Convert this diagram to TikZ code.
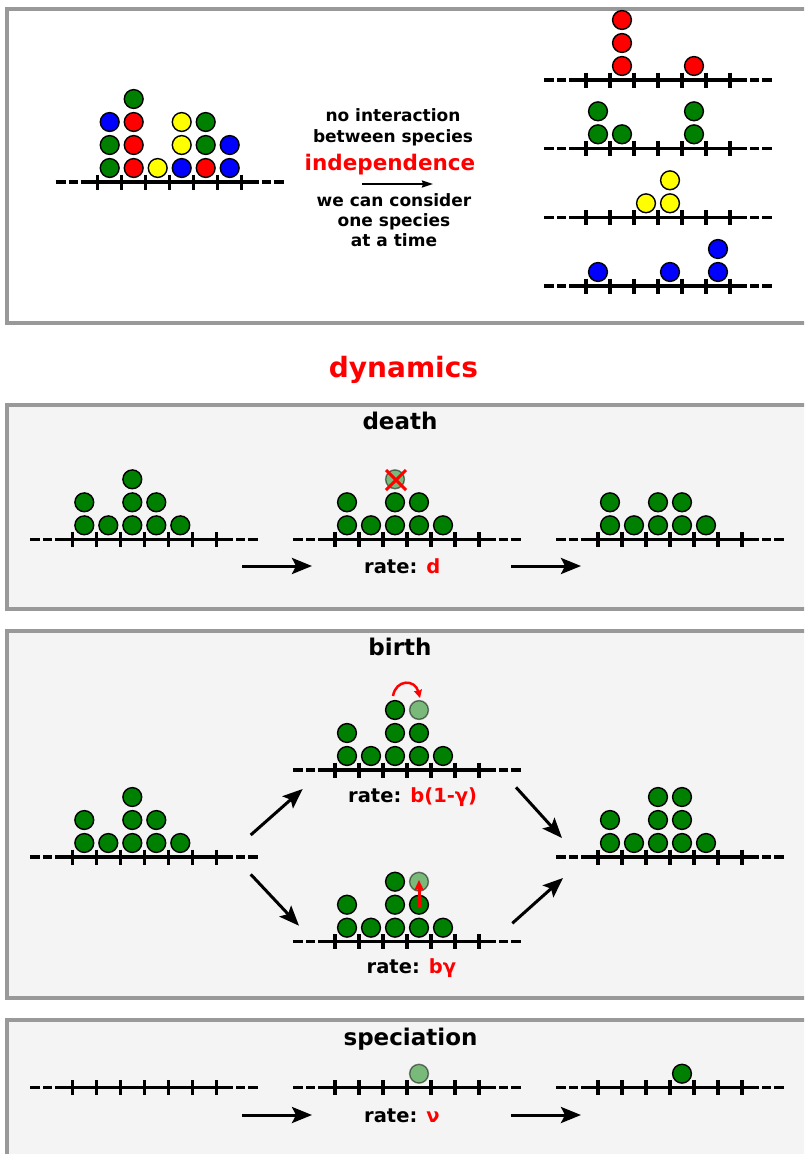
\documentclass[tikz,border=0pt]{standalone}
\usepackage{fontspec}
\setmainfont{DejaVu Sans}
\usetikzlibrary{arrows.meta}
\definecolor{pgreen}{RGB}{0,128,0}
\definecolor{pred}{RGB}{255,0,0}
\definecolor{pyellow}{RGB}{255,255,0}
\definecolor{pblue}{RGB}{0,0,255}
\definecolor{framegray}{RGB}{153,153,153}
\definecolor{panelgray}{RGB}{244,244,244}
\tikzset{
  latline/.style={line width=3.5pt},
  tickline/.style={line width=3.2pt},
  bead/.style={draw=black, line width=1.4pt},
  fadedbead/.style={draw=black, line width=1.4pt, fill=pgreen, opacity=0.5},
  panelbox/.style={draw=framegray, line width=4pt, fill=panelgray},
  txt/.style={anchor=base, inner sep=0pt, font=\bfseries\fontsize{17pt}{17pt}\selectfont},
  titletxt/.style={anchor=base, inner sep=0pt, font=\bfseries\fontsize{23pt}{23pt}\selectfont},
  ratetxt/.style={anchor=base west, inner sep=0pt, font=\bfseries\fontsize{19.5pt}{19.5pt}\selectfont},
  bigarrow/.style={line width=3pt, -{Stealth[length=20pt,width=16pt,inset=4pt]}},
  smallarrow/.style={line width=2pt, -{Stealth[length=11pt,width=7pt,inset=1pt]}}
}
\newcommand{\latt}[2]{%
  \draw[latline] ({#1-89},#2) -- ({#1+89},#2);
  \draw[latline] ({#1-114},#2) -- ({#1-104},#2) ({#1-101},#2) -- ({#1-92},#2)
                 ({#1+92},#2) -- ({#1+101},#2) ({#1+104},#2) -- ({#1+114},#2);
  \foreach \t in {-72,-48,...,72} \draw[tickline] ({#1+\t},{#2-7.5}) -- ({#1+\t},{#2+7.5});
}
\newcommand{\bead}[5]{\filldraw[bead, fill=#5] ({#1-60+24*(#3)},{#2-14-23*(#4)}) circle (9.4pt);}
\newcommand{\fadedbead}[4]{\filldraw[fadedbead] ({#1-60+24*(#3)},{#2-14-23*(#4)}) circle (9.4pt);}
\newcommand{\gstack}[3]{\foreach \k/\n in {#3} {\foreach \l in {1,...,\n} {\bead{#1}{#2}{\k}{\l-1}{pgreen}}}}
\begin{document}
\begin{tikzpicture}[x=1pt,y=-1pt]
\useasboundingbox (0,0) rectangle (804,1154);
\clip (0,0) rectangle (804,1154);
\fill[white] (0,0) rectangle (804,1154);

% ---------- top panel ----------
\draw[draw=framegray, line width=4pt, fill=white] (6.5,9) rectangle (840,323);
\latt{169.7}{182}
\foreach \k/\l/\c in {0/0/pgreen,0/1/pgreen,0/2/pblue,
  1/0/pred,1/1/pred,1/2/pred,1/3/pgreen,
  2/0/pyellow,
  3/0/pblue,3/1/pyellow,3/2/pyellow,
  4/0/pred,4/1/pgreen,4/2/pgreen,
  5/0/pblue,5/1/pblue} {\bead{169.7}{182}{\k}{\l}{\c}}

\node[txt] (t1) at (393,121) {no interaction};
\node[txt] (t2) at (393,142.5) {between species};
\node[txt, text=pred, font=\bfseries\fontsize{21.5pt}{21.5pt}\selectfont] (t3) at (390,170) {independence};
\coordinate (ta) at (362,184);
\coordinate (tb) at (433,184);
\draw[smallarrow] (ta) -- (tb);
\node[txt] (t4) at (394,206.5) {we can consider};
\node[txt] (t5) at (394,226.5) {one species};
\node[txt] (t6) at (394,246.5) {at a time};

\latt{658}{80}
\foreach \k/\l in {1/0,1/1,1/2,4/0} {\bead{658}{80}{\k}{\l}{pred}}
\latt{658}{148.3}
\foreach \k/\l in {0/0,0/1,1/0,4/0,4/1} {\bead{658}{148.3}{\k}{\l}{pgreen}}
\latt{658}{217.3}
\foreach \k/\l in {2/0,3/0,3/1} {\bead{658}{217.3}{\k}{\l}{pyellow}}
\latt{658}{286}
\foreach \k/\l in {0/0,3/0,5/0,5/1} {\bead{658}{286}{\k}{\l}{pblue}}

% ---------- dynamics ----------
\node[anchor=base, inner sep=0pt, text=pred, font=\bfseries\fontsize{28pt}{28pt}\selectfont] (dyn) at (403.5,377) {dynamics};

% ---------- death ----------
\draw[panelbox] (7,405.3) rectangle (840,609);
\node[titletxt] (death) at (400,429) {death};
\latt{144.3}{539.3}
\gstack{144.3}{539.3}{0/2,1/1,2/3,3/2,4/1}
\latt{407}{539.3}
\gstack{407}{539.3}{0/2,1/1,2/2,3/2,4/1}
\fadedbead{407}{539.3}{2}{2}
\draw[pred, line width=3pt] (386,470) -- (406,490) (386,490) -- (406,470);
\latt{670}{539.3}
\gstack{670}{539.3}{0/2,1/1,2/2,3/2,4/1}
\coordinate (da1) at (242,566);
\coordinate (da2) at (312,566);
\coordinate (db1) at (511,566);
\coordinate (db2) at (581,566);
\draw[bigarrow] (da1) -- (da2);
\draw[bigarrow] (db1) -- (db2);
\node[ratetxt] (rd) at (364,573) {rate: \textcolor{pred}{d}};

% ---------- birth ----------
\draw[panelbox] (7,631.3) rectangle (840,998);
\node[titletxt] (birth) at (400,655) {birth};
\latt{144.3}{857}
\gstack{144.3}{857}{0/2,1/1,2/3,3/2,4/1}
\latt{407}{770}
\gstack{407}{770}{0/2,1/1,2/3,3/2,4/1}
\fadedbead{407}{770}{3}{2}
\draw[pred, line width=2.5pt, -{Stealth[length=8pt,width=8pt,inset=1pt]}] (393,696) .. controls (396,679) and (415,679) .. (420,698);
\node[ratetxt] (rb1) at (348,802) {rate: \textcolor{pred}{b(1-γ)}};
\latt{407}{941.7}
\gstack{407}{941.7}{0/2,1/1,2/3,3/2,4/1}
\fadedbead{407}{941.7}{3}{2}
\draw[pred, line width=3pt, -{Stealth[length=10pt,width=9pt,inset=1pt]}] (419,907) -- (419,880);
\node[ratetxt] (rb2) at (366.5,973.5) {rate: \textcolor{pred}{bγ}};
\latt{670}{857}
\gstack{670}{857}{0/2,1/1,2/3,3/3,4/1}
\coordinate (ba1) at (250.7,835);
\coordinate (ba2) at (302.7,789);
\coordinate (bb1) at (250.7,874.3);
\coordinate (bb2) at (299,925.7);
\coordinate (bc1) at (516,787.3);
\coordinate (bc2) at (562,838);
\coordinate (bd1) at (512.3,923.3);
\coordinate (bd2) at (563,878);
\draw[bigarrow] (ba1) -- (ba2);
\draw[bigarrow] (bb1) -- (bb2);
\draw[bigarrow] (bc1) -- (bc2);
\draw[bigarrow] (bd1) -- (bd2);

% ---------- speciation ----------
\draw[panelbox] (7,1019.5) rectangle (840,1180);
\node[titletxt] (spec) at (410.5,1045) {speciation};
\latt{144.3}{1087.7}
\latt{407}{1087.7}
\fadedbead{407}{1087.7}{3}{0}
\latt{670}{1087.7}
\bead{670}{1087.7}{3}{0}{pgreen}
\coordinate (sa1) at (242,1115);
\coordinate (sa2) at (312,1115);
\coordinate (sb1) at (511,1115);
\coordinate (sb2) at (581,1115);
\draw[bigarrow] (sa1) -- (sa2);
\draw[bigarrow] (sb1) -- (sb2);
\node[ratetxt] (rs) at (364,1122) {rate: \textcolor{pred}{ν}};
\end{tikzpicture}
\end{document}
